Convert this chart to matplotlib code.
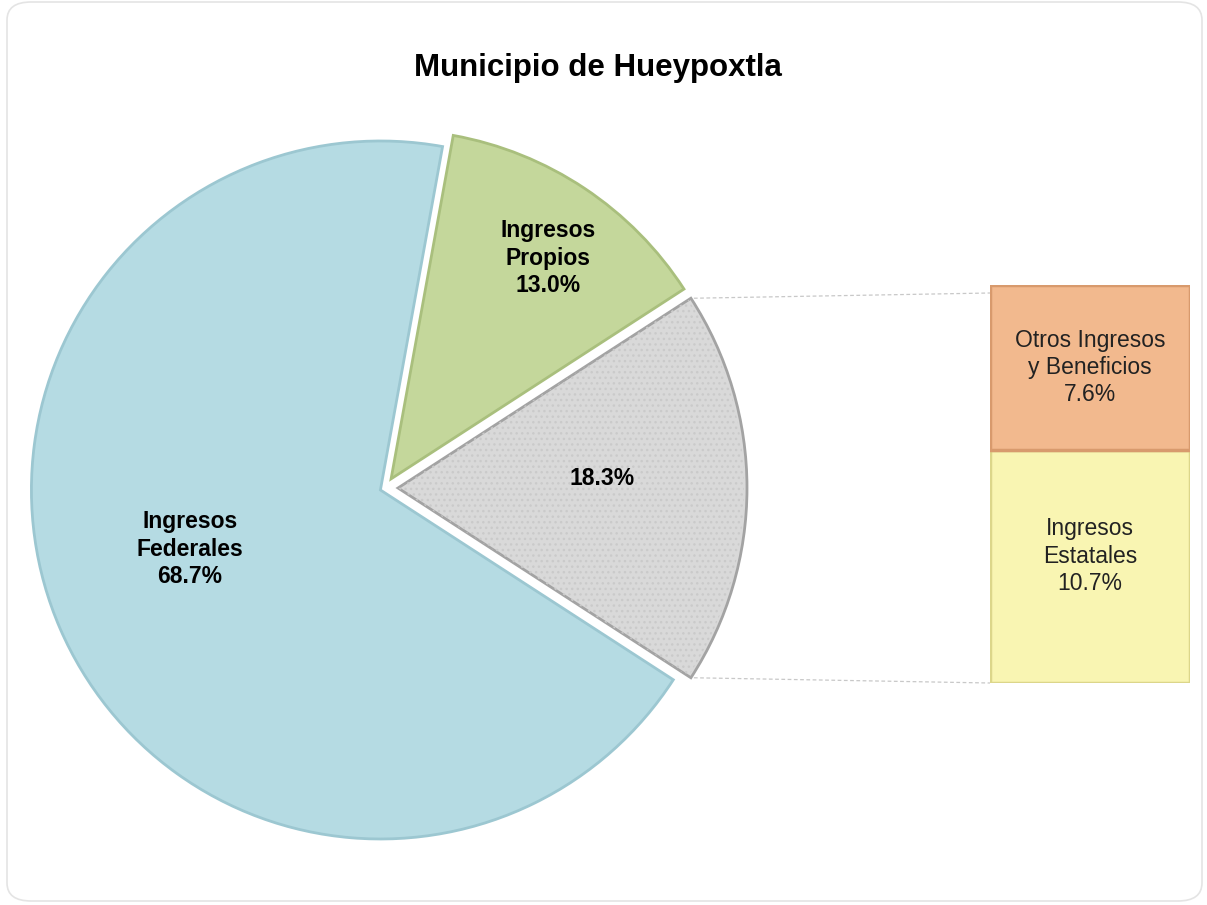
import numpy as np
import matplotlib
matplotlib.use("Agg")
import matplotlib.pyplot as plt
from matplotlib.patches import FancyBboxPatch, Wedge

plt.rcParams['font.family'] = ['Liberation Sans', 'DejaVu Sans']

# ---- data ----
title = "Municipio de Hueypoxtla"
pie_labels = ["Ingresos\nPropios", "", "Ingresos\nFederales"]
pie_values = [13.0, 18.3, 68.7]
bar_labels = ["Ingresos\nEstatales", "Otros Ingresos\ny Beneficios"]
bar_values = [10.7, 7.6]

pie_colors = ["#c4d79b", "#d9d9d9", "#b5dbe3"]
pie_edges = ["#a9bf7d", "#a3a3a3", "#9cc7d1"]
bar_colors = ["#f9f5b2", "#f2b98e"]
bar_edges = ["#dcd68a", "#d89a6d"]

W, H = 1207, 905
fig = plt.figure(figsize=(W / 100, H / 100), dpi=100)
fig.patch.set_facecolor("white")

# border
border = FancyBboxPatch((7 / W, 4 / H), (W - 12) / W, (H - 6) / H,
                        boxstyle="round,pad=0,rounding_size=0.02",
                        transform=fig.transFigure, facecolor="none",
                        edgecolor="#e4e4e4", linewidth=1.2, zorder=-5)
fig.patches.append(border)

# main axes in pixel coordinates (y up)
ax = fig.add_axes([0, 0, 1, 1])
ax.set_xlim(0, W)
ax.set_ylim(0, H)
ax.set_aspect("equal")

cx, cy, R = 385, H - 488, 349
other_angle = pie_values[1] / 100 * 360
start = other_angle / 2 + pie_values[0] / 100 * 360
wedges, _ = ax.pie(pie_values, colors=pie_colors, startangle=start,
                   counterclock=False, center=(cx, cy), radius=R,
                   explode=[11, 13, 5], frame=True,
                   wedgeprops=dict(linewidth=2.0))
for w, ec in zip(wedges, pie_edges):
    w.set_edgecolor(ec)
    w.set_joinstyle("miter")
ax.set_xlim(0, W)
ax.set_ylim(0, H)
ax.set_aspect("equal")
ax.axis("off")

# dotted texture on the grey slice
gw = wedges[1]
tex = Wedge(gw.center, gw.r - 3, gw.theta1, gw.theta2, facecolor="none",
            edgecolor="#cacaca", hatch="...", linewidth=0, zorder=gw.get_zorder() + 0.1)
ax.add_patch(tex)

# labels in pie
lab_kw = dict(ha="center", va="center", fontsize=16.5, fontweight="bold",
              color="black", linespacing=1.24, zorder=5)
ax.text(548, H - 258, f"{pie_labels[0]}\n{pie_values[0]:.1f}%", **lab_kw)
ax.text(602, H - 479, f"{pie_values[1]:.1f}%", **lab_kw)
ax.text(190, H - 549, f"{pie_labels[2]}\n{pie_values[2]:.1f}%", **lab_kw)

# title
fig.text(598 / W, 1 - 68 / H, title, ha="center", va="center",
         fontsize=22.5, fontweight="bold")

# bar axes
bx0, bx1, by_top, by_bot = 990, 1190, 285, 683
bax = fig.add_axes([bx0 / W, (H - by_bot) / H, (bx1 - bx0) / W, (by_bot - by_top) / H])
bottoms = np.cumsum([0] + bar_values[:-1])
bars = bax.bar([0] * len(bar_values), bar_values, bottom=bottoms, width=1.0,
               color=bar_colors, edgecolor=bar_edges, linewidth=2.5)
bax.set_xlim(-0.5, 0.5)
bax.set_ylim(0, sum(bar_values))
bax.axis("off")
for b, lab, v in zip(bars, bar_labels, bar_values):
    y = b.get_y() + b.get_height() * (0.545 if v > 9 else 0.5)
    bax.text(0, y, f"{lab}\n{v:.1f}%", ha="center", va="center", fontsize=16.5,
             color="#222222", linespacing=1.24)

# connector lines from grey slice to bar
t1, t2 = np.deg2rad(gw.theta1), np.deg2rad(gw.theta2)
p_top = (gw.center[0] + gw.r * np.cos(t2), gw.center[1] + gw.r * np.sin(t2))
p_bot = (gw.center[0] + gw.r * np.cos(t1), gw.center[1] + gw.r * np.sin(t1))
ax.plot([p_top[0] + 3, bx0], [p_top[1], H - by_top - 8], ls=(0, (3, 2)), color="#c8c8c8", lw=0.9)
ax.plot([p_bot[0] + 3, bx0], [p_bot[1], H - by_bot], ls=(0, (3, 2)), color="#c8c8c8", lw=0.9)

fig.savefig("out.png", dpi=100, facecolor="white")
